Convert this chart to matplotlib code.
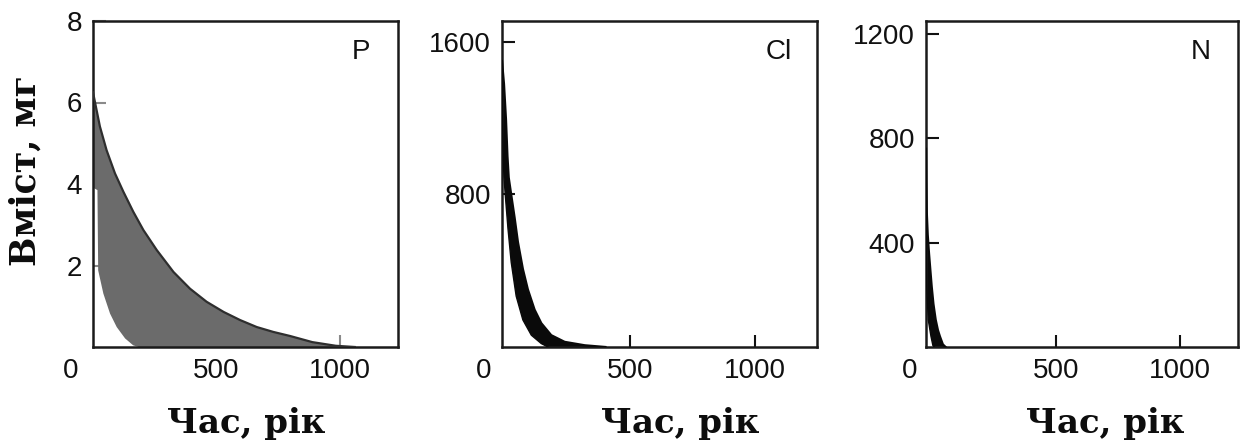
import numpy as np
import matplotlib
matplotlib.use("Agg")
import matplotlib.pyplot as plt
import matplotlib.transforms as mtransforms

# ---- data ----
p_t_upper = [0, 28, 55, 89, 123, 163, 204, 258, 326, 393, 460, 529, 596, 663, 730,
             798, 888, 983, 1060]
p_v_upper = [6.25, 5.41, 4.83, 4.26, 3.81, 3.32, 2.87, 2.38, 1.84, 1.43, 1.11, 0.86,
             0.66, 0.49, 0.37, 0.27, 0.12, 0.03, 0.0]
p_t_lower = [0, 3, 18, 21, 42, 69, 96, 130, 163, 185]
p_v_lower = [6.25, 3.9, 3.85, 1.88, 1.31, 0.82, 0.49, 0.21, 0.04, 0.0]

cl_t_outer = [-16, -8, 0, 6, 11, 21, 35, 48, 68, 88, 115, 142, 182, 236, 317, 400]
cl_v_outer = [1500, 1380, 1195, 1000, 889, 800, 676, 551, 409, 302, 196, 125, 62, 27, 9, 0]
cl_t_inner = [-16, -14, -10, -8, -3, 8, 21, 41, 68, 102, 142, 169]
cl_v_inner = [1500, 1200, 950, 889, 800, 622, 445, 267, 142, 62, 18, 0]

n_t_outer = [-24, -23, -21, -17, -12, -6, -1, 6, 15, 24, 32, 44, 55]
n_v_outer = [760, 640, 520, 430, 361, 290, 232, 165, 105, 65, 41, 10, 0]
n_t_inner = [-24, -23, -21, -15, -4, 4, 10]
n_v_inner = [760, 361, 232, 105, 41, 5, 0]

panel_names = ["P", "Cl", "N"]
y_ticks = [[2, 4, 6, 8], [800, 1600], [400, 800, 1200]]
y_lims = [(0, 8), (0, 1710), (0, 1250)]
x_lims = [(0, 1235), (-16, 1251), (-24, 1234)]
x_ticks = [500, 1000]
x_label = "Час, рік"
y_label = "Вміст, мг"

W, H = 1245, 443
fig = plt.figure(figsize=(W / 100, H / 100), dpi=100)

boxes = [(93, 398), (502, 817), (926, 1238)]
top_px, bot_px = 21, 347

tick_font = "Liberation Sans"
label_font = "DejaVu Serif"

fills = [
    (p_t_upper, p_v_upper, p_t_lower, p_v_lower, "#6b6b6b", "#2e2e2e"),
    (cl_t_outer, cl_v_outer, cl_t_inner, cl_v_inner, "#0a0a0a", "#0a0a0a"),
    (n_t_outer, n_v_outer, n_t_inner, n_v_inner, "#0a0a0a", "#0a0a0a"),
]

for i, (l, r) in enumerate(boxes):
    ax = fig.add_axes([l / W, (H - bot_px) / H, (r - l) / W, (bot_px - top_px) / H])
    to, vo, ti, vi, fc, ec = fills[i]
    xs = np.r_[np.array(to, float), np.array(ti, float)[::-1]]
    ys = np.r_[np.array(vo, float), np.array(vi, float)[::-1]]
    ax.fill(xs, ys, facecolor=fc, edgecolor="none", zorder=2)
    ax.plot(to, vo, color=ec, lw=1.6, zorder=3, solid_joinstyle="round")
    if i > 0:
        ax.plot(ti, vi, color=ec, lw=1.0, zorder=3, solid_joinstyle="round")
    ax.set_xlim(*x_lims[i])
    ax.set_ylim(*y_lims[i])
    ax.set_xticks(x_ticks)
    ax.set_xticklabels([str(v) for v in x_ticks])
    ax.set_yticks(y_ticks[i])
    ax.set_yticklabels([str(v) for v in y_ticks[i]])
    tcol = "#8a8a8a" if i == 0 else "#111111"
    ax.tick_params(axis="both", direction="in", length=9, width=1.5, color=tcol,
                   labelsize=20, labelcolor="#111111")
    ax.tick_params(axis="y", pad=8)
    ax.tick_params(axis="x", pad=8)
    for lab in ax.get_xticklabels() + ax.get_yticklabels():
        lab.set_fontfamily(tick_font)
    for s in ax.spines.values():
        s.set_linewidth(1.8)
        s.set_color("#1a1a1a")
    # origin label "0" shifted left of the axis corner
    trans = mtransforms.blended_transform_factory(ax.transData, ax.transAxes) + \
        mtransforms.ScaledTranslation(-22 / 100, 0, fig.dpi_scale_trans)
    ax.text(0, 0, "0", transform=trans, ha="center", va="top", fontsize=20,
            family=tick_font, color="#111111")
    # panel letter
    ax.text(0.88, 0.905, panel_names[i], transform=ax.transAxes, ha="center",
            va="center", fontsize=20, family=tick_font, color="#111111")

# align the "0" labels with the other x tick labels
fig.canvas.draw()
for ax in fig.axes:
    bb = ax.get_xticklabels()[0].get_window_extent()
    for t in ax.texts:
        if t.get_text() == "0":
            x_disp = t.get_transform().transform((0, 0))[0]
            t.set_transform(mtransforms.IdentityTransform())
            t.set_position((x_disp, bb.y1))

# axis labels
centers_x = [246, 680, 1105]
for cx in centers_x:
    fig.text(cx / W, (H - 433) / H, x_label, ha="center", va="baseline",
             fontsize=24.5, fontweight="bold", family=label_font, color="#0d0d0d")

fig.text(26 / W, (H - 171) / H, y_label, rotation=90, ha="center", va="center",
         fontsize=25, fontweight="bold", family=label_font, color="#0d0d0d")

fig.savefig("out.png", dpi=100)
